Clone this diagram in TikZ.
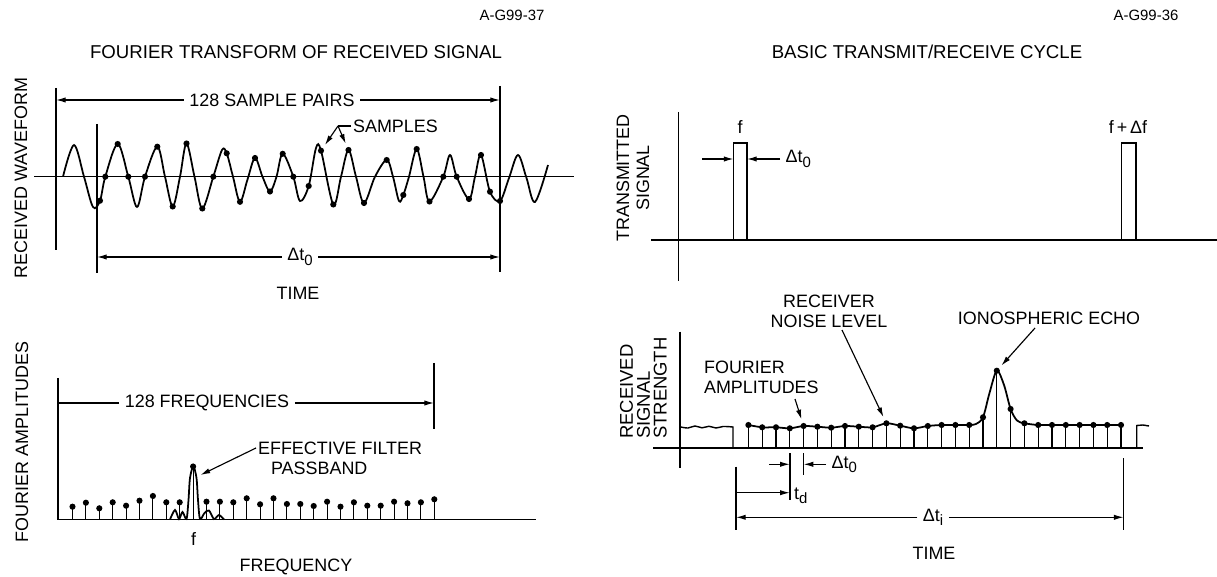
\documentclass[tikz,border=0pt]{standalone}
\usepackage{fontspec}
\setmainfont{Liberation Sans}
\usetikzlibrary{arrows.meta}
\newcommand{\lowsub}[1]{\raisebox{-0.45ex}{\fontsize{8.5}{8.5}\selectfont #1}}
\begin{document}
\begin{tikzpicture}[x=0.02cm,y=-0.02cm,
  lbl/.style={inner sep=1pt,font=\fontsize{10.2}{11.3}\selectfont},
  ttl/.style={inner sep=1pt,font=\fontsize{10.6}{12}\selectfont},
  code/.style={inner sep=1pt,font=\fontsize{8.5}{10}\selectfont},
  dimlbl/.style={lbl,inner xsep=3pt},
  ax/.style={line width=0.8pt},
  curve/.style={line width=1pt},
  stem/.style={line width=0.65pt},
  dim/.style={line width=0.65pt,-{Latex[length=5.5pt,width=3pt]}},
  dot/.style={circle,fill,inner sep=0pt,minimum size=3.5pt}]
\useasboundingbox (0,0) rectangle (1217,577);

% left: received waveform
\node[code] (codeA) at (512,15) {A-G99-37};
\node[ttl] (titleA) at (296,52) {FOURIER TRANSFORM OF RECEIVED SIGNAL};
\node[lbl,rotate=90] (ylabA) at (21,178) {RECEIVED WAVEFORM};
\draw[ax] (34,176.7) -- (574,176.7);
\draw[ax] (56,88) -- (56,250); \draw[ax] (97,124) -- (97,273); \draw[ax] (500,86) -- (500,272);
\coordinate (pl) at (56,100); \coordinate (pr) at (500,100);
\node[dimlbl] (pairs) at (272,100) {128 SAMPLE PAIRS};
\draw[dim] (pairs) -- (pl); \draw[dim] (pairs) -- (pr);
\draw[curve] plot[smooth,tension=0.55] coordinates {(63,176.7) (74,145) (84,176.7) (93,207) (100,200.7) (105.3,176.7)
  (117.7,144) (128.3,176.7) (137,207) (145,176.7) (157.3,146.7) (165,176.7) (172.7,206.5) (180,176.7) (186.5,143.5)
  (194.5,176.7) (202.3,208.5) (213.3,176.7) (222,150) (226.7,153.3) (233,176.7) (240,201.8) (247.5,179.5) (255,158)
  (262.5,176.7) (270,191.5) (276.5,176.7) (282.7,153.8) (293.3,176.7) (300,201) (308.7,186) (316,148) (321,150.7)
  (333.3,204.5) (341,176.7) (348.5,150) (356,176.7) (364,203) (375,176.7) (386.7,160) (393,176.7) (399,201)
  (403.3,195) (409,176.7) (416.7,149) (423.5,176.7) (429.5,201.5) (443.3,176.7) (450,155) (456.7,176.7) (469,199)
  (475,176.7) (481,155) (490,191.7) (500,201) (509,178) (518,155) (526.5,178) (535,202) (548,165)};
\foreach \x/\y [count=\i] in {100/200.7,105.3/176.7,117.7/144,128.3/176.7,145/176.7,157.3/146.7,172.7/206.5,186.5/143.5,
  202.3/208.5,213.3/176.7,226.7/153.3,240/201.8,255/158,270/191.5,282.7/153.8,293.3/176.7,308.7/186,321/150.7,
  333.3/204.5,348.5/150,364/203,386.7/160,403.3/195,416.7/149,429.5/201.5,443.3/176.7,456.7/176.7,469/199,
  481/155,490/191.7,500/201}
  \node[dot] (s\i) at (\x,\y) {};
\node[lbl,anchor=west] (samples) at (351,126) {SAMPLES};
\coordinate (sfork) at (338,126);
\draw[ax] (samples) -- (sfork);
\draw[dim,shorten >=2pt] (sfork) -- (s18); \draw[dim,shorten >=2pt] (sfork) -- (s20);
\coordinate (dal) at (97,257); \coordinate (dar) at (500,257);
\node[dimlbl] (dta) at (300,257) {Δt\lowsub{0}};
\draw[dim] (dta) -- (dal); \draw[dim] (dta) -- (dar);
\node[lbl] (timeA) at (298,293) {TIME};

% left: fourier amplitudes
\node[lbl,rotate=90] (ylabB) at (22,442) {FOURIER AMPLITUDES};
\draw[ax] (58,378) -- (58,520); \draw[curve] (58,519.5) -- (536,519.5);
\draw[ax] (434,363) -- (434,429);
\coordinate (fql) at (58,403); \coordinate (fqr) at (434,403);
\node[dimlbl] (freqs) at (207,403) {128 FREQUENCIES};
\draw[ax] (freqs) -- (fql); \draw[dim] (freqs) -- (fqr);
\foreach \y [count=\i from 0] in {506.7,502.7,508.3,502.3,505.7,500.7,496,502.3,502.3,466.5,501.7,501.7,502.3,498.3,
  504.3,498.3,504,504,506,501.7,506.7,502.3,505.7,505.7,501.7,503.3,502.3,499.3}
  {\draw[stem] (72.5+13.4*\i,519.5) -- (72.5+13.4*\i,\y); \node[dot] (a\i) at (72.5+13.4*\i,\y) {};}
\draw[curve] plot[smooth,tension=0.5] coordinates {(170,519.5) (175,510) (179,519) (182.5,512) (186.5,519)
  (188.5,500) (190,478) (193.3,466.5) (196.5,478) (198,500) (200,519) (204.5,513) (209,510.5) (214,519) (219,515) (224,519.5)};
\coordinate (pbtip) at (200.5,475);
\node[lbl,anchor=west] (eff) at (256,448) {EFFECTIVE FILTER};
\node[lbl,anchor=west] (pass) at (269,468) {PASSBAND};
\draw[dim] (eff.west) -- (pbtip);
\node[lbl] (fA) at (193.5,539) {f};
\node[lbl] (freqlbl) at (296,567) {FREQUENCY};

% right: transmitted signal
\node[code] (codeB) at (1146,15) {A-G99-36};
\node[ttl] (titleB) at (927,52) {BASIC TRANSMIT/RECEIVE CYCLE};
\node[lbl,rotate=90,align=center] (ylabC) at (633,178) {TRANSMITTED\\SIGNAL};
\draw[ax] (678.7,112) -- (678.7,281); \draw[curve] (651,240) -- (1217,240);
\draw[curve] (733.5,240) -- (733.5,143.3) -- (747,143.3) -- (747,240);
\draw[curve] (1121.6,240) -- (1121.6,143.3) -- (1136,143.3) -- (1136,240);
\node[lbl] (fB) at (740,127) {f};
\node[lbl] (fdf) at (1128,127) {f\,+\,Δf};
\coordinate (pw0) at (702,159); \coordinate (pw1) at (733.5,159); \coordinate (pw2) at (747,159);
\node[dimlbl,anchor=west] (dtb) at (780,159) {Δt\lowsub{0}};
\draw[dim] (pw0) -- (pw1); \draw[dim] (dtb) -- (pw2);

% right: received signal
\node[lbl,rotate=90,align=left,anchor=south west,font=\fontsize{10.5}{9.6}\selectfont] (ylabD) at (669,441) {RECEIVED\\SIGNAL\\STRENGTH};
\draw[ax] (680,331.7) -- (680,468.3); \draw[curve] (653,448) -- (1143,448);
\draw[ax] plot[smooth,tension=0.6] coordinates {(681,427) (688,428) (695,426) (702,427.8) (709,426.3) (716,428) (723,426.5) (733,427)} -- (733,448);
\draw[ax] (1136.7,448) -- (1136.7,425.5) -- (1143,425) -- (1149,426);
\foreach \y [count=\i from 0] in {425,427.3,427.3,428.3,426,426.7,427.7,426,426.7,427.3,423.3,425.7,428.3,426,425,425,
  425,417.3,370.7,409,423.3,425,425,425,425,425,425,425}
  {\draw[stem] (748.4+13.8*\i,448) -- (748.4+13.8*\i,\y); \node[dot] (r\i) at (748.4+13.8*\i,\y) {};}
\draw[curve] plot[smooth,tension=0.5] coordinates {(r0) (r1) (r2) (r3) (r4) (r5) (r6) (r7) (r8) (r9) (r10) (r11) (r12)
  (r13) (r14) (r15) (r16) (976,424) (r17) (989.5,393) (r18) (1004,385) (r19) (1017,420.5) (r20) (r21) (r22) (r23)
  (r24) (r25) (r26) (r27)};
\node[lbl,anchor=west,align=left] (fampl) at (702,377) {FOURIER\\AMPLITUDES};
\coordinate (fa0) at (795,399);
\draw[dim,shorten >=2pt] (fa0) -- (r4);
\node[lbl,align=center] (noise) at (829,311) {RECEIVER\\NOISE LEVEL};
\coordinate (nl0) at (842,330);
\draw[dim,shorten >=2pt] (nl0) -- (r10);
\node[lbl] (iono) at (1049,318) {IONOSPHERIC ECHO};
\coordinate (ie0) at (1035,328);
\draw[dim,shorten >=2pt] (ie0) -- (r18);
% time marks
\draw[ax] (789.8,453) -- (789.8,500); \draw[ax] (803.6,453) -- (803.6,475);
\coordinate (d0l) at (769,464.3); \coordinate (d0a) at (789.8,464.3); \coordinate (d0b) at (803.6,464.3);
\node[dimlbl,anchor=west] (dtc) at (826,464.3) {Δt\lowsub{0}};
\draw[dim] (d0l) -- (d0a); \draw[dim] (dtc) -- (d0b);
\draw[ax] (736,466.7) -- (736,530); \draw[ax] (1123.6,458) -- (1123.6,530);
\coordinate (tdl) at (736,492.7); \coordinate (tdr) at (789.8,492.7);
\draw[dim] (tdl) -- (tdr);
\node[lbl,anchor=west] (td) at (792,496) {t\lowsub{d}};
\coordinate (til) at (736,517.3); \coordinate (tir) at (1123.6,517.3);
\node[dimlbl] (dti) at (933,517.3) {Δt\lowsub{i}};
\draw[dim] (dti) -- (til); \draw[dim] (dti) -- (tir);
\node[lbl] (timeB) at (934,553) {TIME};
\end{tikzpicture}
\end{document}
